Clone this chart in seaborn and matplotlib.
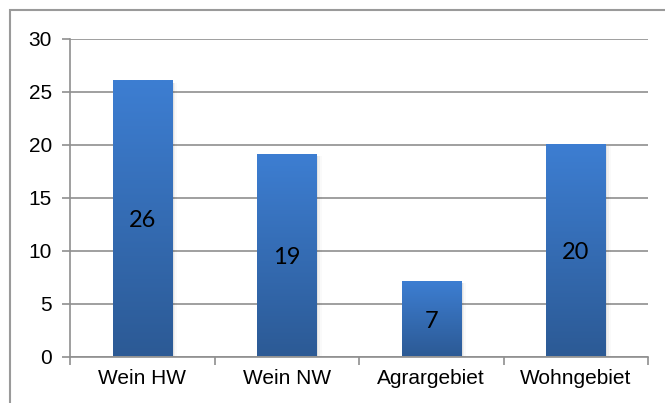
import matplotlib.pyplot as plt
import matplotlib.colors as mcolors
import numpy as np
import pandas as pd
import seaborn as sns
from matplotlib.patches import Rectangle

# data
categories = ["Wein HW", "Wein NW", "Agrargebiet", "Wohngebiet"]
values = [26, 19, 7, 20]
y_ticks = [0, 5, 10, 15, 20, 25, 30]

GRID = "#8f8f8f"
TOP_BLUE = "#3d7ed2"
BOTTOM_BLUE = "#2c5a95"

sns.set_theme(style="white")
plt.rcParams["font.family"] = ["Liberation Sans", "DejaVu Sans"]

df = pd.DataFrame({"category": categories, "value": values})

fig = plt.figure(figsize=(6.65, 4.03), dpi=100)
ax = fig.add_axes([70 / 665, 1 - 356.5 / 403, 578 / 665, (356.5 - 39) / 403])

sns.barplot(data=df, x="category", y="value", color=TOP_BLUE, width=0.41,
            saturation=1, ax=ax, zorder=3)

# vertical gradient fill on each bar
cmap = mcolors.LinearSegmentedColormap.from_list("bar", [BOTTOM_BLUE, TOP_BLUE])
grad = np.linspace(0, 1, 256).reshape(-1, 1)
for bar in ax.patches:
    x0, y0 = bar.get_x(), bar.get_y()
    w, h = bar.get_width(), bar.get_height()
    # soft shadow to the right
    for i, a in enumerate([0.06, 0.04, 0.02]):
        ax.add_patch(Rectangle((x0 + w, y0), 0.012 * (i + 1), h * 0.995,
                               color="black", alpha=a, lw=0, zorder=2))
    ax.imshow(grad, extent=(x0, x0 + w, y0, y0 + h), origin="lower",
              cmap=cmap, aspect="auto", zorder=4)
    bar.set_alpha(0)

for i, v in enumerate(values):
    ax.text(i, v / 2 - 0.15, str(v), ha="center", va="center", fontsize=17,
            family=["Lato", "DejaVu Sans"], color="black", zorder=5)

ax.set_xlim(-0.5, len(categories) - 0.5)
ax.set_ylim(0, 30)
ax.set_yticks(y_ticks)
ax.set_xticks(np.arange(-0.5, len(categories)), minor=True)
ax.set_xlabel("")
ax.set_ylabel("")
ax.grid(axis="y", color=GRID, linewidth=1.2, zorder=0)
ax.set_axisbelow(True)

for s in ["top", "right"]:
    ax.spines[s].set_visible(False)
for s in ["left", "bottom"]:
    ax.spines[s].set_color(GRID)
    ax.spines[s].set_linewidth(1.2)

ax.tick_params(axis="y", which="major", length=6, width=1.2, color=GRID,
               labelsize=15, pad=7, left=True, direction="out", labelcolor="black")
ax.tick_params(axis="x", which="major", length=0, labelsize=15, pad=9,
               labelcolor="black")
ax.tick_params(axis="x", which="minor", length=6, width=1.2, color=GRID,
               bottom=True, direction="out")

# chart frame (left and top edges visible in the reference)
fig.patches.append(Rectangle((10 / 665, -0.1), 1.2, 1.1 - 10 / 403,
                             transform=fig.transFigure, fill=False,
                             edgecolor="#9a9a9a", linewidth=1.5))

fig.savefig("out.png", dpi=100)
